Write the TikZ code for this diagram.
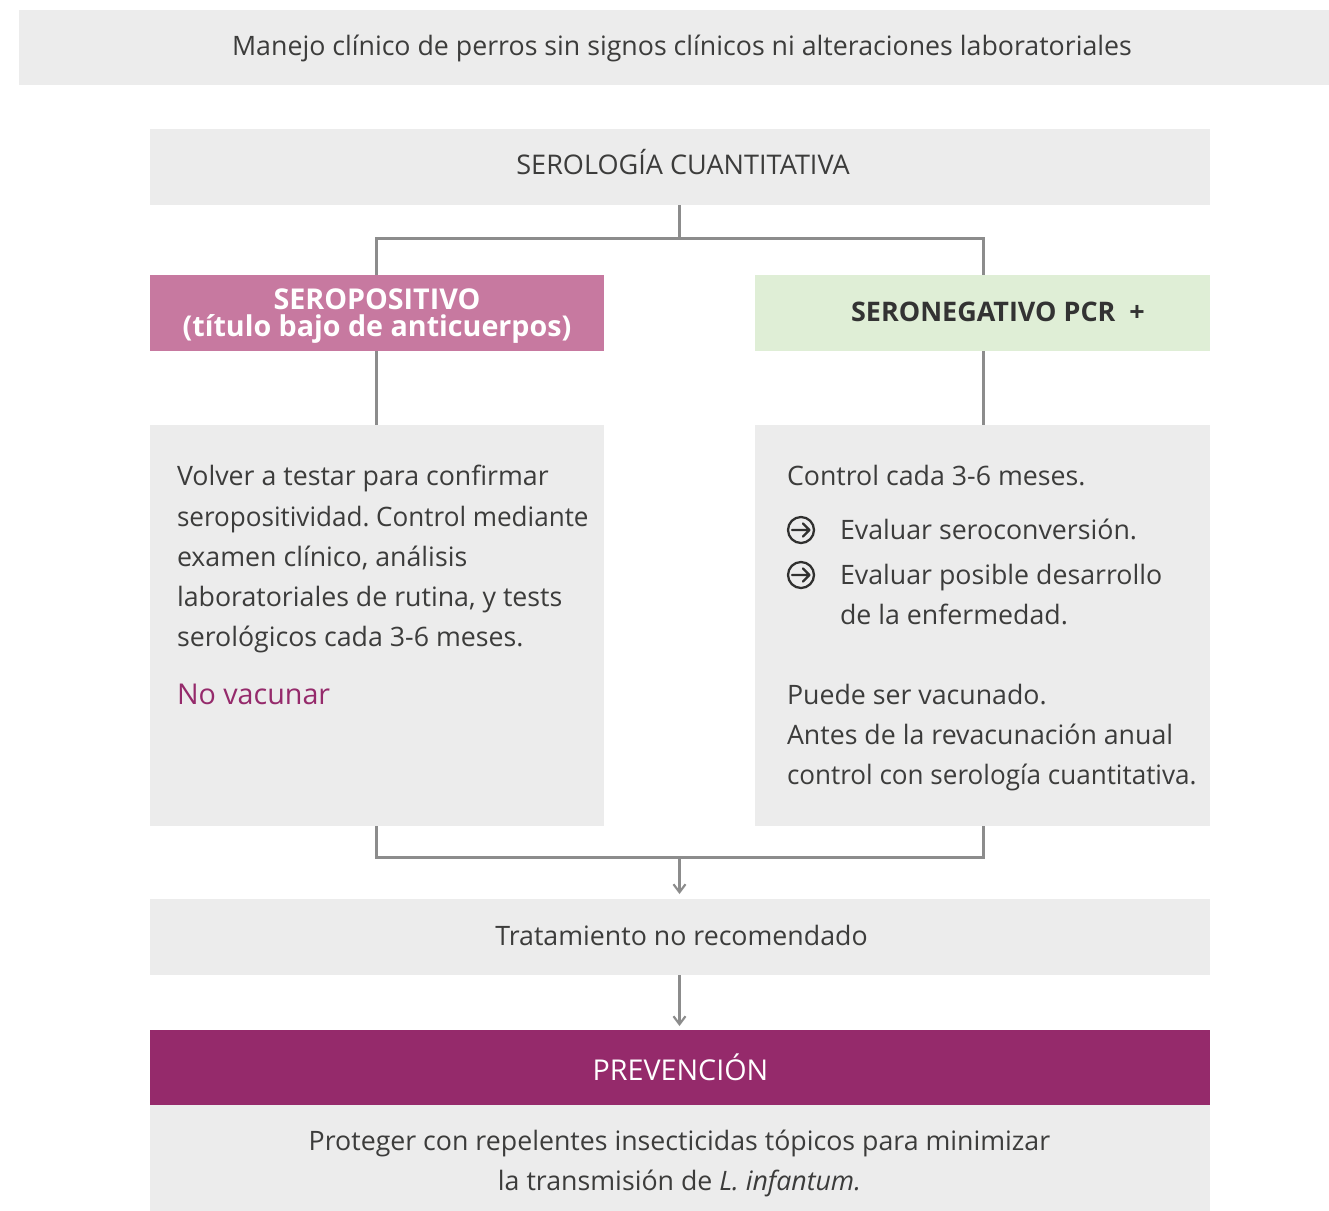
\documentclass[tikz,border=0pt]{standalone}
\usepackage{fontspec}
\setmainfont{Open Sans}
\usetikzlibrary{arrows.meta}
\frenchspacing
\definecolor{boxgray}{HTML}{ECECEC}
\definecolor{pinkbox}{HTML}{C779A0}
\definecolor{greenbox}{HTML}{DFEED6}
\definecolor{plum}{HTML}{952A6B}
\definecolor{txt}{HTML}{3C3C3B}
\definecolor{wire}{HTML}{8C8C8C}
\tikzset{
  px/.style={x=0.75pt,y=-0.75pt},
  panel/.style={inner sep=0pt,outer sep=0pt,minimum width=#1*0.75pt},
  tall/.style={minimum height=#1*0.75pt},
  body/.style={font=\fontsize{20.05}{30}\selectfont,text=txt,inner sep=0pt,outer sep=0pt},
  line/.style={body,anchor=base west},
  mid/.style={body,anchor=base},
  large/.style={font=\fontsize{21.5}{26}\selectfont},
  largebold/.style={font=\fontsize{21.5}{26}\selectfont\bfseries,text=white},
  tight/.style={xscale=#1,transform shape},
  wirepath/.style={draw=wire,line width=2.25pt},
  arrowpath/.style={wirepath,-{Straight Barb[length=6pt,width=9pt,line width=1.6pt]}},
  iconline/.style={draw=txt!80!black,line width=1.7pt,line cap=round,line join=round},
}
\begin{document}
\begin{tikzpicture}[px]
\useasboundingbox (0,0) rectangle (1329,1211);
% boxes
\node[panel=1310,tall=75,fill=boxgray] (title) at (674,47.5) {};
\node[panel=1059.5,tall=76,fill=boxgray] (sero) at (679.75,167) {};
\node[panel=454,tall=76,fill=pinkbox] (pos) at (377,313) {};
\node[panel=454.5,tall=76,fill=greenbox] (neg) at (982.25,313) {};
\node[panel=454,tall=401,fill=boxgray] (lbody) at (377,625.5) {};
\node[panel=454.5,tall=401,fill=boxgray] (rbody) at (982.25,625.5) {};
\node[panel=1059.5,tall=76,fill=boxgray] (trat) at (679.75,937) {};
\node[panel=1059.5,tall=75,fill=plum] (prev) at (679.75,1067.5) {};
\node[panel=1059.5,tall=106,fill=boxgray] (prot) at (679.75,1158) {};
% connectors
\coordinate (topmid) at (679.5,238);
\coordinate (topl) at (376.8,238);
\coordinate (topr) at (983,238);
\coordinate (botmid) at (679.5,857);
\coordinate (botl) at (376.8,857);
\coordinate (botr) at (983,857);
\coordinate (sb) at (679.5,205);
\coordinate (pt) at (376.8,275);
\coordinate (nt) at (983,275);
\coordinate (pb) at (376.8,351);
\coordinate (nb) at (983,351);
\coordinate (lt) at (376.8,425);
\coordinate (rt) at (983,425);
\coordinate (lb) at (376.8,826);
\coordinate (rb) at (983,826);
\coordinate (ta) at (679.5,894);
\coordinate (tb) at (679.5,975);
\coordinate (pa) at (679.5,1026);
\draw[wirepath] (sb) -- (topmid);
\draw[wirepath] (pt) -- (topl) -- (topr) -- (nt);
\draw[wirepath] (pb) -- (lt);
\draw[wirepath] (nb) -- (rt);
\draw[wirepath] (lb) -- (botl) -- (botr) -- (rb);
\draw[arrowpath] (botmid) -- (ta);
\draw[arrowpath] (tb) -- (pa);
% centred texts
\node[mid] (t1) at (682,55) {Manejo clínico de perros sin signos clínicos ni alteraciones laboratoriales};
\node[mid,font=\fontsize{20.3}{30}\selectfont] (t2) at (683,174) {SEROLOGÍA CUANTITATIVA};
\node[mid,largebold] (t3) at (377,309.5) {SEROPOSITIVO};
\node[mid,largebold] (t4) at (377,336.5) {(título bajo de anticuerpos)};
\node[mid,font=\fontsize{20.2}{24}\selectfont\bfseries,text=black!80] (t5) at (998,321) {SERONEGATIVO PCR\ \ +};
\node[mid] (t6) at (681.5,945) {Tratamiento no recomendado};
\node[mid,large,text=white] (t7) at (680.5,1080) {PREVENCIÓN};
\node[mid] (t8) at (679.5,1150) {Proteger con repelentes insecticidas tópicos para minimizar};
\node[mid] (t9) at (679.5,1190) {la transmisión de \textit{L. infantum.}};
% left body
\node[line] (l1) at (177,485) {Volver a testar para confirmar};
\node[line,tight=0.975] (l2) at (177,526) {seropositividad. Control mediante};
\node[line] (l3) at (177,566) {examen clínico, análisis};
\node[line] (l4) at (177,606) {laboratoriales de rutina, y tests};
\node[line] (l5) at (177,646) {serológicos cada 3-6 meses.};
\node[line,large,text=plum] (l6) at (177,704) {No vacunar};
% right body
\node[line] (r1) at (787,485) {Control cada 3-6 meses.};
\node[line] (r2) at (840,539) {Evaluar seroconversión.};
\node[line] (r3) at (840,584) {Evaluar posible desarrollo};
\node[line] (r4) at (840,624) {de la enfermedad.};
\node[line] (r5) at (787,704) {Puede ser vacunado.};
\node[line] (r6) at (787,744) {Antes de la revacunación anual};
\node[line,tight=0.975] (r7) at (787,784) {control con serología cuantitativa.};
% bullet icons
\foreach \yy in {530,575}{
  \draw[iconline] (801,\yy) circle[radius=13];
  \draw[iconline] (792,\yy) -- (809,\yy) (803,\yy-6.5) -- (809.5,\yy) -- (803,\yy+6.5);
}
\end{tikzpicture}
\end{document}
